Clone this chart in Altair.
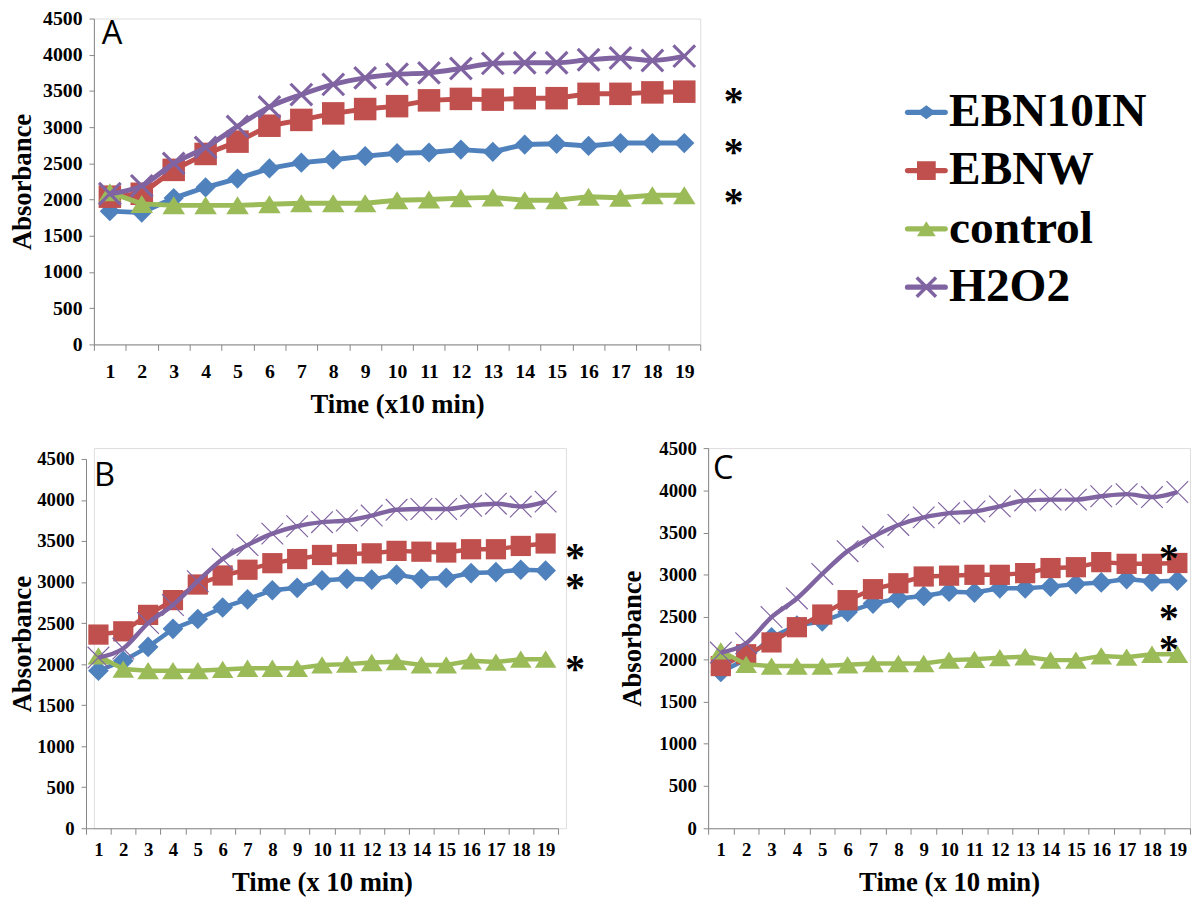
import altair as alt
import pandas as pd

# ---------------- data ----------------
time = list(range(1, 20))
series = ["EBN10IN", "EBNW", "control", "H2O2"]

h2o2 = [2080, 2190, 2500, 2720, 3010, 3280, 3450, 3590, 3680, 3730, 3750, 3810, 3880, 3890, 3890, 3930, 3955, 3920, 3980]
control = [2100, 1940, 1920, 1920, 1920, 1935, 1950, 1950, 1950, 1990, 2000, 2020, 2030, 1990, 1990, 2040, 2025, 2060, 2060]

ebn10in_A = [1840, 1820, 2020, 2170, 2290, 2430, 2510, 2550, 2600, 2640, 2650, 2690, 2660, 2760, 2770, 2740, 2780, 2780, 2780]
ebnw_A = [2040, 2080, 2410, 2630, 2800, 3020, 3100, 3190, 3250, 3290, 3370, 3390, 3380, 3400, 3400, 3460, 3460, 3480, 3490]

ebn10in_B = [1920, 2040, 2210, 2430, 2550, 2690, 2790, 2900, 2930, 3020, 3040, 3030, 3090, 3040, 3050, 3110, 3120, 3150, 3140]
ebnw_B = [2360, 2400, 2600, 2780, 2970, 3080, 3150, 3230, 3280, 3330, 3340, 3350, 3380, 3370, 3360, 3400, 3400, 3440, 3470]

ebn10in_C = [1850, 2000, 2260, 2400, 2450, 2560, 2660, 2720, 2750, 2800, 2790, 2840, 2840, 2860, 2890, 2910, 2950, 2920, 2930]
ebnw_C = [1920, 2060, 2200, 2380, 2530, 2700, 2830, 2900, 2980, 2990, 3000, 3000, 3020, 3080, 3090, 3150, 3130, 3130, 3140]

y_ticks = [0, 500, 1000, 1500, 2000, 2500, 3000, 3500, 4000, 4500]

panel_values = {
    "A": {"EBN10IN": ebn10in_A, "EBNW": ebnw_A, "control": control, "H2O2": h2o2},
    "B": {"EBN10IN": ebn10in_B, "EBNW": ebnw_B, "control": control, "H2O2": h2o2},
    "C": {"EBN10IN": ebn10in_C, "EBNW": ebnw_C, "control": control, "H2O2": h2o2},
}

# significance asterisks: (series, time point)
stars = {
    "A": [("EBNW", 19), ("EBN10IN", 19), ("control", 19)],
    "B": [("EBNW", 19), ("EBN10IN", 19), ("control", 19)],
    "C": [("EBNW", 18), ("EBN10IN", 18), ("control", 18)],
}

# ---------------- style ----------------
SERIF = "Liberation Serif"
SANS = "Open Sans"
AXIS_GRAY = "#868686"
colors = {"EBN10IN": "#4F81BD", "EBNW": "#C0504D", "control": "#9BBB59", "H2O2": "#8064A2"}
DIAMOND = "M0,-1L1,0L0,1L-1,0Z"
FLAT_DIAMOND = "M0,-0.75L1,0L0,0.75L-1,0Z"
TRIANGLE = "M0,-0.8L1,0.8L-1,0.8Z"
XSHAPE = "M-1,-1L1,1M-1,1L1,-1"
shapes = {"EBN10IN": DIAMOND, "EBNW": "square", "control": TRIANGLE, "H2O2": XSHAPE}
legend_shapes = {"EBN10IN": FLAT_DIAMOND, "EBNW": "square", "control": TRIANGLE, "H2O2": XSHAPE}

cfg = {
    "A": dict(width=614, height=330, xrange=[0, 614], yrange=[330, 0], yoffset=0,
              line=5, xstroke=3.2,
              sizes={"EBN10IN": 420, "EBNW": 520, "control": 520, "H2O2": 480},
              tick_font=20, title="Time (x10 min)", letter_x=8, letter_y=26,
              ytitle_pad=6, xlabel_pad=12, xtitle_pad=10,
              star_offsets=[(50, 23), (50, 22), (50, 20)]),
    "B": dict(width=478, height=385, xrange=[-8, 470], yrange=[385, 11], yoffset=8,
              line=4.5, xstroke=1.2,
              sizes={"EBN10IN": 440, "EBNW": 420, "control": 480, "H2O2": 480},
              tick_font=19, title="Time (x 10 min)", letter_x=0, letter_y=38,
              ytitle_pad=0, xlabel_pad=7, xtitle_pad=10,
              star_offsets=[(30, 27), (30, 30), (30, 23)]),
    "C": dict(width=488, height=385, xrange=[0, 488], yrange=[385, 0], yoffset=0,
              line=4.5, xstroke=1.2,
              sizes={"EBN10IN": 440, "EBNW": 420, "control": 480, "H2O2": 480},
              tick_font=19, title="Time (x 10 min)", letter_x=5, letter_y=31,
              ytitle_pad=12, xlabel_pad=7, xtitle_pad=10,
              star_offsets=[(17, 7), (17, 50), (17, 8)]),
}

STAR_FONT = 40


def panel(name):
    c = cfg[name]
    rows = []
    for s in series:
        for t, v in zip(time, panel_values[name][s]):
            rows.append({"time": t, "value": v, "series": s})
    df = pd.DataFrame(rows)

    x_enc = alt.X(
        "time:O",
        scale=alt.Scale(type="band", paddingInner=0, paddingOuter=0, range=c["xrange"]),
        axis=alt.Axis(
            title=c["title"], tickBand="extent", labelAngle=0,
            labelFont=SERIF, labelFontWeight="bold", labelFontSize=c["tick_font"],
            labelColor="black", labelPadding=c["xlabel_pad"],
            titleFont=SERIF, titleFontWeight="bold", titleFontSize=27,
            titleColor="black", titlePadding=c["xtitle_pad"],
            domainColor=AXIS_GRAY, tickColor=AXIS_GRAY, tickSize=6,
        ),
    )
    y_enc = alt.Y(
        "value:Q",
        scale=alt.Scale(domain=[0, 4500], nice=False, zero=True, range=c["yrange"]),
        axis=alt.Axis(
            title="Absorbance", values=y_ticks, grid=False, format="d",
            offset=c["yoffset"],
            labelFont=SERIF, labelFontWeight="bold", labelFontSize=c["tick_font"],
            labelColor="black", labelPadding=7,
            titleFont=SERIF, titleFontWeight="bold", titleFontSize=27,
            titleColor="black", titlePadding=c["ytitle_pad"],
            domainColor=AXIS_GRAY, tickColor=AXIS_GRAY, tickSize=5,
        ),
    )

    layers = []
    for s in series:
        base = alt.Chart(df).transform_filter(alt.datum.series == s)
        interp = "monotone" if s == "H2O2" else "linear"
        layers.append(
            base.mark_line(color=colors[s], strokeWidth=c["line"], interpolate=interp)
            .encode(x=x_enc, y=y_enc)
        )
        if s == "H2O2":
            pt = base.mark_point(shape=XSHAPE, filled=False, color=colors[s],
                                 strokeWidth=c["xstroke"], size=c["sizes"][s], opacity=1)
        else:
            pt = base.mark_point(shape=shapes[s], filled=True, color=colors[s],
                                 size=c["sizes"][s], opacity=1)
        layers.append(pt.encode(x=x_enc, y=y_enc))

    # asterisks
    for (s, t), (dx, dy) in zip(stars[name], c["star_offsets"]):
        v = panel_values[name][s][t - 1]
        sdf = pd.DataFrame({"time": [t], "value": [v], "label": ["*"]})
        layers.append(
            alt.Chart(sdf).mark_text(font=SERIF, fontWeight="bold", fontSize=STAR_FONT,
                                     color="black", dx=dx, dy=dy, baseline="alphabetic",
                                     align="center")
            .encode(x=x_enc, y=y_enc, text="label:N")
        )

    # panel letter
    ldf = pd.DataFrame({"label": [name]})
    layers.append(
        alt.Chart(ldf).mark_text(font=SANS, fontSize=33, color="black",
                                 align="left", baseline="alphabetic")
        .encode(x=alt.value(c["letter_x"]), y=alt.value(c["letter_y"]), text="label:N")
    )
    return alt.layer(*layers), c


# ---------------- panel A with legend ----------------
dataA, cA = panel("A")
leg_df = pd.DataFrame({"series": series, "row": list(range(len(series)))})
leg_y = alt.Y("row:Q", scale=alt.Scale(domain=[0, 3], range=[95, 272]), axis=None)
leg_layers = []
for s in series:
    base = alt.Chart(leg_df).transform_filter(alt.datum.series == s)
    leg_layers.append(
        base.mark_rule(color=colors[s], strokeWidth=5.5, strokeCap="round")
        .encode(x=alt.value(824), x2=alt.value(862), y=leg_y)
    )
    if s == "H2O2":
        pt = base.mark_point(shape=XSHAPE, filled=False, color=colors[s], strokeWidth=3.5,
                             size=380, opacity=1)
    else:
        pt = base.mark_point(shape=legend_shapes[s], filled=True, color=colors[s],
                             size=360, opacity=1)
    leg_layers.append(pt.encode(x=alt.value(843), y=leg_y))
leg_layers.append(
    alt.Chart(leg_df).mark_text(font=SERIF, fontWeight="bold", fontSize=48, color="black",
                                align="left", baseline="middle")
    .encode(x=alt.value(866), y=leg_y, text="series:N")
)
legend = alt.layer(*leg_layers)

panelA = alt.layer(dataA, legend).resolve_scale(y="independent").properties(
    width=cA["width"], height=cA["height"])

panelB, cB = panel("B")
panelB = panelB.properties(width=cB["width"], height=cB["height"])
panelC, cC = panel("C")
panelC = panelC.properties(width=cC["width"], height=cC["height"])

chart = alt.vconcat(
    panelA,
    alt.hconcat(panelB, panelC, spacing=33),
    spacing=20,
).properties(padding={"left": 0, "top": -6, "right": 0, "bottom": 0}).configure_view(
    stroke=None
).configure_axis(
    labelFont=SERIF, titleFont=SERIF
).configure(background="white")

chart.save("out.html", embed_options={"renderer": "svg", "actions": False})
